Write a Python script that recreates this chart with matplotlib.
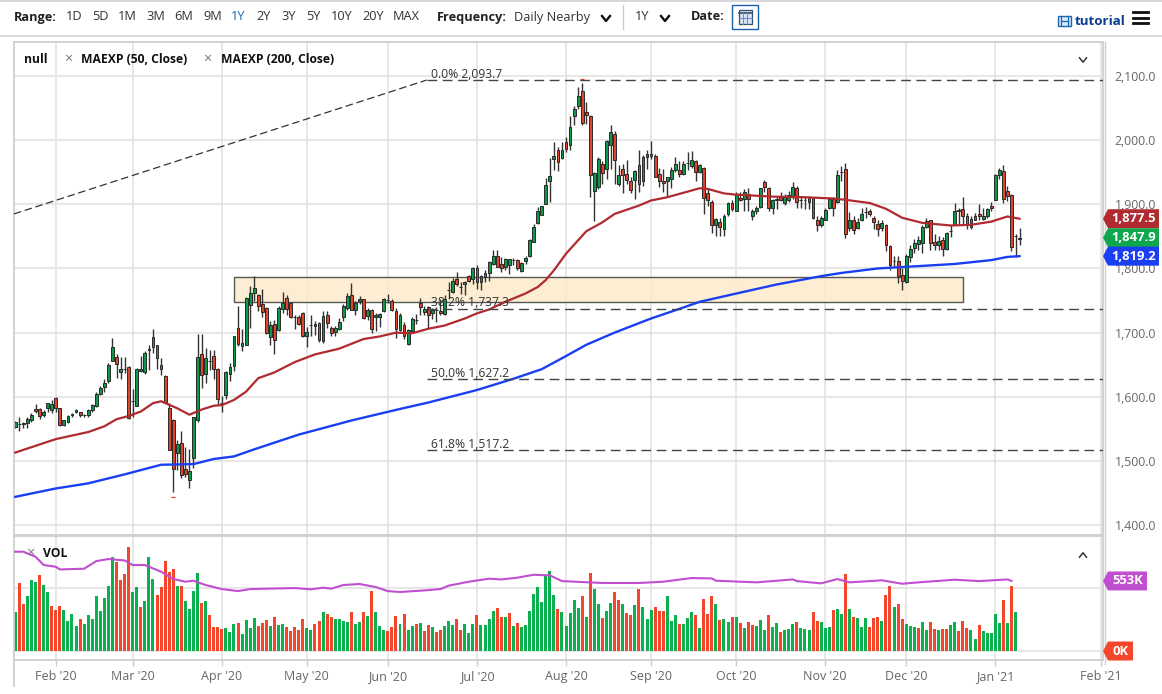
import matplotlib
matplotlib.use("Agg")
import matplotlib.pyplot as plt
from matplotlib.lines import Line2D
from matplotlib.patches import Polygon, Rectangle

W, H = 1162, 694

opens = [
    1553, 1558, 1558, 1559, 1563, 1581, 1581, 1572, 1582, 1579,
    1598, 1582, 1556, 1560, 1572, 1576, 1576, 1571, 1571, 1579,
    1585, 1605, 1615, 1625, 1656, 1662, 1638, 1643, 1646, 1594,
    1586, 1640, 1638, 1673, 1693, 1680, 1649, 1633, 1583, 1564,
    1513, 1528, 1487, 1471, 1505, 1563, 1666, 1635, 1655, 1664,
    1644, 1591, 1603, 1636, 1648, 1707, 1679, 1681, 1743, 1762,
    1759, 1744, 1738, 1693, 1714, 1704, 1737, 1754, 1746, 1724,
    1724, 1730, 1694, 1712, 1711, 1715, 1687, 1728, 1707, 1701,
    1705, 1724, 1739, 1758, 1735, 1750, 1752, 1726, 1735, 1724,
    1725, 1734, 1751, 1750, 1734, 1704, 1712, 1682, 1703, 1719,
    1746, 1732, 1740, 1731, 1736, 1734, 1729, 1767, 1763, 1784,
    1771, 1775, 1788, 1784, 1800, 1779, 1786, 1793, 1807, 1819,
    1807, 1803, 1805, 1813, 1813, 1796, 1812, 1819, 1842, 1871,
    1884, 1900, 1937, 1970, 1985, 1972, 1997, 1993, 2037, 2054,
    2076, 2044, 2038, 1920, 1927, 1963, 1955, 1993, 2010, 1932,
    1955, 1948, 1936, 1938, 1962, 1936, 1973, 1975, 1976, 1948,
    1937, 1937, 1939, 1954, 1954, 1948, 1964, 1960, 1967, 1951,
    1957, 1917, 1904, 1867, 1872, 1862, 1885, 1902, 1890, 1910,
    1909, 1916, 1882, 1889, 1896, 1934, 1926, 1894, 1906, 1912,
    1902, 1907, 1911, 1926, 1906, 1906, 1903, 1910, 1876, 1867,
    1876, 1895, 1908, 1903, 1950, 1955, 1863, 1876, 1863, 1875,
    1888, 1889, 1879, 1870, 1863, 1868, 1835, 1811, 1811, 1790,
    1779, 1818, 1832, 1838, 1839, 1865, 1875, 1842, 1837, 1845,
    1830, 1858, 1868, 1889, 1892, 1882, 1864, 1876, 1885, 1877,
    1881, 1898, 1907, 1945, 1952, 1920, 1915, 1850, 1846,
]
highs = [
    1562, 1568, 1561, 1568, 1575, 1589, 1582, 1579, 1591, 1595,
    1599, 1583, 1564, 1572, 1574, 1581, 1577, 1573, 1581, 1589,
    1608, 1616, 1627, 1653, 1692, 1667, 1662, 1662, 1648, 1612,
    1645, 1663, 1671, 1681, 1705, 1681, 1660, 1634, 1590, 1565,
    1533, 1546, 1522, 1519, 1569, 1698, 1698, 1676, 1673, 1673,
    1645, 1601, 1640, 1653, 1695, 1742, 1705, 1755, 1772, 1789,
    1760, 1768, 1740, 1718, 1719, 1741, 1764, 1759, 1747, 1728,
    1728, 1732, 1709, 1727, 1718, 1716, 1733, 1733, 1710, 1711,
    1723, 1744, 1762, 1777, 1749, 1757, 1753, 1739, 1737, 1731,
    1731, 1754, 1760, 1752, 1739, 1730, 1716, 1706, 1724, 1729,
    1754, 1741, 1742, 1738, 1740, 1753, 1758, 1779, 1785, 1795,
    1779, 1780, 1790, 1802, 1805, 1790, 1797, 1811, 1828, 1828,
    1818, 1816, 1815, 1816, 1815, 1810, 1820, 1846, 1870, 1896,
    1898, 1941, 1972, 1997, 1990, 1997, 2005, 2037, 2054, 2083,
    2089, 2059, 2039, 1950, 1974, 1968, 2000, 2023, 2014, 1961,
    1963, 1969, 1943, 1953, 1985, 1977, 1984, 1999, 1978, 1957,
    1955, 1943, 1958, 1974, 1968, 1968, 1981, 1983, 1969, 1963,
    1958, 1924, 1907, 1879, 1879, 1885, 1903, 1906, 1919, 1919,
    1924, 1926, 1893, 1898, 1926, 1938, 1927, 1908, 1913, 1919,
    1916, 1921, 1934, 1929, 1913, 1913, 1913, 1911, 1882, 1882,
    1894, 1912, 1912, 1953, 1960, 1964, 1888, 1881, 1879, 1895,
    1896, 1893, 1882, 1875, 1876, 1869, 1836, 1820, 1820, 1800,
    1823, 1836, 1846, 1851, 1867, 1879, 1876, 1853, 1851, 1849,
    1857, 1867, 1902, 1895, 1911, 1887, 1882, 1887, 1900, 1895,
    1894, 1903, 1948, 1956, 1962, 1929, 1916, 1854, 1863,
]
lows = [
    1551, 1547, 1551, 1551, 1561, 1574, 1566, 1569, 1577, 1575,
    1577, 1554, 1554, 1559, 1569, 1574, 1568, 1568, 1569, 1577,
    1584, 1603, 1608, 1622, 1655, 1629, 1628, 1637, 1565, 1569,
    1586, 1638, 1636, 1642, 1668, 1643, 1634, 1590, 1517, 1452,
    1486, 1474, 1475, 1458, 1489, 1561, 1614, 1621, 1642, 1627,
    1587, 1577, 1596, 1624, 1640, 1679, 1672, 1680, 1707, 1749,
    1733, 1724, 1698, 1681, 1667, 1702, 1731, 1728, 1723, 1706,
    1712, 1693, 1678, 1694, 1697, 1686, 1684, 1707, 1694, 1694,
    1704, 1718, 1736, 1735, 1727, 1744, 1721, 1720, 1699, 1702,
    1709, 1732, 1746, 1733, 1692, 1702, 1690, 1680, 1700, 1714,
    1727, 1727, 1706, 1721, 1717, 1727, 1728, 1753, 1762, 1772,
    1760, 1758, 1779, 1776, 1768, 1766, 1779, 1781, 1805, 1802,
    1794, 1797, 1791, 1805, 1797, 1794, 1807, 1818, 1841, 1870,
    1883, 1900, 1903, 1954, 1952, 1971, 1981, 1984, 2023, 2049,
    2024, 2025, 1911, 1874, 1924, 1932, 1940, 1955, 1932, 1929,
    1917, 1932, 1917, 1908, 1919, 1929, 1955, 1971, 1942, 1927,
    1919, 1911, 1926, 1950, 1943, 1945, 1953, 1957, 1937, 1949,
    1885, 1898, 1856, 1851, 1851, 1851, 1881, 1890, 1889, 1905,
    1890, 1890, 1876, 1885, 1894, 1919, 1889, 1885, 1893, 1905,
    1899, 1903, 1908, 1895, 1894, 1893, 1893, 1877, 1859, 1864,
    1875, 1893, 1881, 1902, 1937, 1848, 1858, 1854, 1861, 1874,
    1879, 1881, 1862, 1850, 1859, 1827, 1798, 1803, 1777, 1767,
    1777, 1810, 1824, 1828, 1824, 1863, 1828, 1829, 1828, 1820,
    1828, 1849, 1867, 1869, 1868, 1862, 1862, 1875, 1876, 1875,
    1879, 1890, 1906, 1939, 1902, 1905, 1827, 1818, 1836,
]
closes = [
    1560, 1558, 1559, 1566, 1572, 1578, 1570, 1577, 1590, 1588,
    1583, 1556, 1563, 1570, 1573, 1580, 1571, 1571, 1579, 1587,
    1604, 1613, 1622, 1649, 1678, 1651, 1643, 1643, 1567, 1594,
    1644, 1643, 1668, 1675, 1677, 1661, 1643, 1592, 1517, 1487,
    1526, 1478, 1480, 1485, 1568, 1662, 1634, 1660, 1655, 1643,
    1596, 1591, 1638, 1646, 1694, 1682, 1684, 1754, 1762, 1770,
    1741, 1732, 1699, 1712, 1689, 1738, 1746, 1737, 1724, 1724,
    1714, 1695, 1701, 1712, 1713, 1689, 1726, 1715, 1699, 1707,
    1717, 1742, 1757, 1736, 1746, 1752, 1723, 1736, 1706, 1728,
    1729, 1752, 1751, 1735, 1706, 1727, 1695, 1704, 1721, 1719,
    1740, 1737, 1727, 1736, 1736, 1730, 1753, 1767, 1781, 1775,
    1771, 1779, 1781, 1801, 1779, 1789, 1793, 1810, 1820, 1803,
    1801, 1814, 1814, 1813, 1800, 1809, 1817, 1844, 1865, 1889,
    1897, 1930, 1944, 1976, 1966, 1985, 1986, 2020, 2049, 2069,
    2026, 2039, 1946, 1949, 1970, 1949, 1998, 2012, 1969, 1945,
    1946, 1938, 1923, 1952, 1932, 1973, 1978, 1978, 1943, 1937,
    1933, 1942, 1954, 1963, 1948, 1963, 1964, 1969, 1950, 1961,
    1910, 1907, 1868, 1877, 1865, 1881, 1902, 1893, 1916, 1907,
    1919, 1908, 1890, 1894, 1925, 1927, 1894, 1907, 1909, 1906,
    1911, 1915, 1927, 1904, 1906, 1906, 1911, 1878, 1867, 1879,
    1891, 1909, 1895, 1946, 1950, 1854, 1876, 1860, 1872, 1885,
    1888, 1885, 1873, 1861, 1871, 1836, 1805, 1811, 1788, 1780,
    1819, 1830, 1840, 1845, 1865, 1874, 1839, 1836, 1843, 1831,
    1855, 1858, 1889, 1891, 1882, 1868, 1877, 1882, 1881, 1882,
    1892, 1894, 1946, 1954, 1908, 1913, 1834, 1850, 1848,
]
volumes = [
    310, 534, 368, 437, 560, 547, 600, 521, 463, 358,
    326, 358, 321, 237, 295, 200, 250, 213, 284, 250,
    434, 316, 421, 513, 739, 700, 560, 605, 818, 468,
    502, 345, 395, 739, 565, 442, 505, 713, 626, 644,
    515, 513, 395, 329, 473, 618, 379, 392, 284, 189,
    189, 176, 181, 150, 210, 224, 137, 242, 179, 260,
    197, 218, 245, 200, 266, 205, 213, 192, 158, 187,
    168, 252, 181, 166, 210, 234, 308, 289, 266, 252,
    255, 237, 229, 305, 216, 226, 310, 276, 476, 310,
    197, 166, 155, 187, 276, 210, 289, 166, 197, 213,
    218, 158, 205, 189, 150, 163, 197, 239, 203, 255,
    163, 213, 139, 213, 284, 205, 205, 250, 316, 337,
    271, 271, 302, 200, 218, 192, 205, 316, 450, 505,
    384, 600, 631, 442, 329, 305, 200, 302, 400, 342,
    437, 271, 613, 489, 368, 258, 313, 381, 466, 402,
    368, 300, 287, 363, 489, 350, 255, 321, 347, 316,
    316, 434, 237, 284, 216, 210, 258, 310, 284, 184,
    408, 292, 434, 368, 245, 250, 226, 266, 268, 218,
    184, 226, 205, 200, 245, 166, 281, 192, 224, 153,
    168, 171, 213, 229, 179, 174, 163, 305, 237, 229,
    181, 189, 323, 331, 289, 608, 329, 271, 263, 189,
    260, 192, 263, 268, 239, 439, 513, 345, 368, 252,
    213, 197, 189, 181, 226, 163, 229, 176, 166, 174,
    176, 205, 229, 158, 239, 181, 166, 95, 205, 158,
    142, 139, 295, 224, 402, 221, 513, 308,
]
volume_dirs = (
    "grrgggrggr" "rrggggrggg" "gggggrrrrg" "grgggrrrrr" "grggggrgrr"
    "rrgggrgggg" "rrrgrggrrr" "rrggrrgrrg" "gggrggrgrg" "ggrrrgrggr"
    "grrgrrgggr" "rgggrggggr" "rgrgrggggg" "ggggrggggg" "rgrggrggrr"
    "grrgrgggrr" "rgggrgggrg" "rrrgrggrgr" "grrgggrggr" "gggrgggrrg"
    "ggrggrgrgg" "grrrgrrgrr" "gggrggrrgr" "rggrrrggrg" "ggggrgrg"
)

ema50_idx = [0, 10, 18, 22, 25, 28, 31, 34, 36, 40, 43, 46, 49, 51, 54, 57, 60, 64,
             69, 74, 80, 86, 90, 94, 98, 102, 106, 111, 114, 117, 121, 126, 129, 131,
             133, 136, 141, 145, 148, 154, 157, 161, 169, 171, 175, 178, 187, 195, 202,
             205, 211, 215, 219, 224, 231, 236, 241, 245, 248]
ema50 = [1513, 1534, 1545, 1554, 1565, 1570, 1577, 1590, 1593, 1582, 1572, 1580, 1586,
         1587, 1595, 1608, 1629, 1638, 1654, 1666, 1675, 1690, 1694, 1700, 1699, 1706,
         1711, 1722, 1730, 1736, 1748, 1761, 1771, 1782, 1797, 1823, 1858, 1872, 1885,
         1898, 1906, 1911, 1925, 1924, 1917, 1915, 1912, 1911, 1909, 1907, 1902, 1893,
         1879, 1871, 1867, 1868, 1873, 1881, 1877.5]
ema200_idx = [0, 10, 18, 27, 36, 44, 49, 54, 59, 70, 83, 95, 102, 114, 123, 130, 135,
              141, 148, 157, 164, 169, 176, 188, 199, 204, 213, 224, 232, 241, 245, 248]
ema200 = [1444, 1457, 1465, 1479, 1494, 1495, 1503, 1507, 1518, 1541, 1563, 1581, 1591,
          1610.5, 1628, 1643, 1660, 1681, 1700, 1722, 1737, 1748, 1758, 1775, 1788, 1793,
          1800, 1804, 1807, 1813, 1818, 1819.2]
vol_ma_idx = [0, 2, 5, 7, 10, 11, 17, 20, 23, 27, 29, 32, 36, 39, 42, 44, 47, 51, 55, 58,
              69, 73, 76, 78, 81, 85, 89, 92, 95, 100, 105, 107, 112, 113, 117, 120, 124,
              128, 132, 135, 145, 154, 160, 167, 172, 173, 183, 192, 193, 199, 203, 206,
              214, 219, 223, 232, 238, 245, 246]
vol_ma = [784, 784, 744, 679, 665, 644, 650, 710, 726, 715, 679, 679, 626, 568, 547, 555,
          521, 489, 473, 489, 497, 487, 500, 492, 521, 529, 505, 473, 466, 476, 489, 516,
          547, 552, 571, 565, 579, 602, 597, 552, 537, 537, 547, 576, 573, 555, 542, 565,
          552, 534, 568, 542, 558, 531, 542, 563, 552, 565, 553]

fib_levels = [2093.7, 1737.3, 1627.2, 1517.2]
fib_labels = ["0.0% 2,093.7", "38.2% 1,737.3", "50.0% 1,627.2", "61.8% 1,517.2"]
fib_start = 101.6
trend_idx = [-0.32, 101.6]
trend_price = [1885, 2093.7]
zone_idx = [54, 234]
zone_price = [1748, 1787]

month_idx = [10, 29, 51, 72, 92, 114, 136, 157, 178, 200, 220, 242, 268]
month_labels = ["Feb '20", "Mar '20", "Apr '20", "May '20", "Jun '20", "Jul '20", "Aug '20",
                "Sep '20", "Oct '20", "Nov '20", "Dec '20", "Jan '21", "Feb '21"]
price_ticks = [1400, 1500, 1600, 1700, 1800, 1900, 2000, 2100]
price_labels = ["1,400.0", "1,500.0", "1,600.0", "1,700.0", "1,800.0", "1,900.0",
                "2,000.0", "2,100.0"]
range_labels = ["1D", "5D", "1M", "3M", "6M", "9M", "1Y", "2Y", "3Y", "5Y", "10Y", "20Y", "MAX"]
range_x = [66, 92, 118, 146, 174, 203, 231, 256, 281, 306, 331, 362, 393]

UP_BODY = "#0c9a48"
DOWN_BODY = "#e0452a"
VOL_UP = "#0bb14f"
VOL_DOWN = "#f4462a"
GRID = "#e3e3e3"
BORDER = "#cfcfcf"
TICK_TEXT = "#666666"
RED_LINE = "#b02a30"
BLUE_LINE = "#1a3ff2"
PURPLE = "#c04fd0"
BADGE_GREEN = "#0fa64d"


def px_rect(left, top, right, bottom):
    return [left / W, 1 - bottom / H, (right - left) / W, (bottom - top) / H]


def put_text(fig, x, y, s, **kwargs):
    kwargs.setdefault("va", "center")
    kwargs.setdefault("color", "#222222")
    kwargs.setdefault("fontsize", 9.2)
    fig.text(x / W, 1 - y / H, s, **kwargs)


def put_line(fig, xs, ys, color="#222222", lw=1.0, **kwargs):
    fig.add_artist(Line2D([x / W for x in xs], [1 - y / H for y in ys],
                          color=color, lw=lw, transform=fig.transFigure, **kwargs))


def put_rect(fig, x, y, w, h, **kwargs):
    fig.add_artist(Rectangle((x / W, 1 - (y + h) / H), w / W, h / H,
                             transform=fig.transFigure, **kwargs))


def chevron(fig, x, y, up=False, color="#333333", lw=1.1, size=3.5):
    d = -size / 1.6 if up else size / 1.6
    put_line(fig, [x - size, x, x + size], [y - d, y + d, y - d], color=color, lw=lw)


def badge(fig, y, right, color, text):
    # small flag on the right of the axis, with its point against the plot
    points = [(1103, y), (1108, y - 9.5), (right, y - 9.5), (right, y + 9.5), (1108, y + 9.5)]
    fig.add_artist(Polygon([(px / W, 1 - py / H) for px, py in points], closed=True,
                           facecolor=color, edgecolor="none",
                           transform=fig.transFigure, zorder=6))
    put_text(fig, (1109 + right) / 2, y, text, color="white", fontweight="bold",
             ha="center", fontsize=9.4, zorder=7)


def style_axes(ax):
    ax.set_facecolor("white")
    ax.grid(True, color=GRID, lw=1.2, zorder=0)
    ax.set_axisbelow(True)
    for spine in ax.spines.values():
        spine.set_color(BORDER)
        spine.set_linewidth(1.3)


def draw_price(ax):
    ax.set_xlim(-0.32, 268.6)
    ax.set_ylim(1384.5, 2153)
    ax.set_xticks(month_idx)
    ax.set_xticklabels([])
    ax.set_yticks(price_ticks)
    ax.set_yticklabels(price_labels)
    ax.yaxis.tick_right()
    ax.tick_params(axis="x", length=0)
    ax.tick_params(axis="y", length=0, pad=8.5, labelsize=8.8, labelcolor=TICK_TEXT)
    style_axes(ax)

    ax.add_patch(Rectangle((zone_idx[0], zone_price[0]), zone_idx[1] - zone_idx[0],
                           zone_price[1] - zone_price[0], facecolor="#fdeccd", alpha=0.9,
                           edgecolor="#444444", lw=1.0, zorder=1))

    xs = range(len(closes))
    colors = [UP_BODY if c >= o else DOWN_BODY for o, c in zip(opens, closes)]
    ax.vlines(xs, lows, highs, color="#333333", lw=1.0, zorder=2)
    ax.bar(xs, [c - o for o, c in zip(opens, closes)], bottom=opens, width=0.7,
           color=colors, edgecolor="#2a2a2a", lw=0.7, zorder=2.5)

    ax.plot(ema50_idx, ema50, color=RED_LINE, lw=1.6, zorder=3)
    ax.plot(ema200_idx, ema200, color=BLUE_LINE, lw=1.7, zorder=3)

    # tiny red ticks just beyond the extreme candles
    ax.plot([39, 140], [1444, 2096], ls="none", marker="_", ms=2.5, mew=0.9,
            color="#f04030", zorder=3)

    ax.plot(trend_idx, trend_price, color="#333333", lw=0.9, ls=(0, (6, 3)), zorder=3)
    for level, label in zip(fib_levels, fib_labels):
        ax.plot([fib_start, 268.6], [level, level], color="#444444", lw=1.0,
                ls=(0, (7, 4)), zorder=3)
        ax.text(fib_start + 1, level - 1, label, color="#333333", fontsize=8.7,
                va="bottom", ha="left", zorder=4)


def draw_volume(ax):
    ax.set_xlim(-0.32, 268.6)
    ax.set_ylim(-71, 908)
    ax.set_xticks(month_idx)
    ax.set_xticklabels(month_labels)
    ax.set_yticks([0, 500])
    ax.set_yticklabels([])
    ax.tick_params(axis="y", length=0)
    ax.tick_params(axis="x", length=4, width=1, color=BORDER, pad=3.5, labelsize=9,
                   labelcolor=TICK_TEXT)
    style_axes(ax)

    colors = [VOL_UP if d == "g" else VOL_DOWN for d in volume_dirs]
    ax.bar(range(len(volumes)), volumes, width=0.74, color=colors, zorder=2)
    ax.plot(vol_ma_idx, vol_ma, color=PURPLE, lw=1.5, zorder=3)


def draw_toolbar(fig):
    put_line(fig, [0, W], [1, 1], color="#d0d0d0", lw=1.2)
    put_line(fig, [0, W], [36, 36], color="#d0d0d0", lw=1.2)
    put_text(fig, 14, 17, "Range:", fontweight="bold")
    for x, label in zip(range_x, range_labels):
        put_text(fig, x, 17, label, color="#1668b8" if label == "1Y" else "#333333")
    put_text(fig, 437, 17, "Frequency:", fontweight="bold")
    put_text(fig, 514, 17, "Daily Nearby", color="#333333")
    chevron(fig, 606, 18.5, color="#111111", lw=1.7, size=4)
    put_line(fig, [623, 623], [5, 29], color="#cccccc", lw=1)
    put_text(fig, 635, 17, "1Y", color="#333333")
    chevron(fig, 665, 18.5, color="#111111", lw=1.7, size=4)
    put_text(fig, 691, 17, "Date:", fontweight="bold")

    # calendar button
    put_rect(fig, 732, 5.5, 26, 23, facecolor="white", edgecolor="#1b5fa8", lw=1)
    put_rect(fig, 738.5, 10, 13, 13.5, facecolor="#d5e3f3", edgecolor="#35506f", lw=0.9)
    put_line(fig, [738.5, 751.5], [13, 13], color="#35506f", lw=1.2)
    put_line(fig, [743, 743], [13, 23.5], color="#7a86c8", lw=0.7)
    put_line(fig, [747, 747], [13, 23.5], color="#7a86c8", lw=0.7)
    put_line(fig, [738.5, 751.5], [18, 18], color="#7a86c8", lw=0.7)

    # tutorial link
    put_rect(fig, 1058, 16, 13, 10, facecolor="#dbe8f5", edgecolor="#1b66b5", lw=1)
    put_line(fig, [1061, 1061], [16, 26], color="#1b66b5", lw=0.9)
    put_line(fig, [1068, 1068], [16, 26], color="#1b66b5", lw=0.9)
    put_line(fig, [1061, 1068], [21, 21], color="#1b66b5", lw=0.9)
    put_text(fig, 1075, 21.5, "tutorial", color="#0b3d91", fontweight="bold", fontsize=9.6)
    for y in [12, 17.5, 23]:
        put_line(fig, [1133, 1148], [y, y], color="#111111", lw=2)


def main():
    plt.rcParams["font.family"] = ["Open Sans", "DejaVu Sans"]
    fig = plt.figure(figsize=(W / 100, H / 100), dpi=100, facecolor="white")

    price_ax = fig.add_axes(px_rect(14, 42, 1103, 535))
    volume_ax = fig.add_axes(px_rect(14, 536, 1103, 660))
    draw_price(price_ax)
    draw_volume(volume_ax)
    draw_toolbar(fig)

    put_line(fig, [14, 14], [660, 686], color=BORDER, lw=1.3)
    put_line(fig, [1105, 1105], [42, 664], color=BORDER, lw=1.0)

    # legends
    put_text(fig, 24, 59.5, "null", fontweight="bold", fontsize=8.7, color="#111111")
    put_text(fig, 68, 59.5, "×", color="#777777", ha="center", fontsize=10.5)
    put_text(fig, 81, 59.5, "MAEXP (50, Close)", fontweight="bold", fontsize=8.7, color="#111111")
    put_text(fig, 207, 59.5, "×", color="#777777", ha="center", fontsize=10.5)
    put_text(fig, 221, 59.5, "MAEXP (200, Close)", fontweight="bold", fontsize=8.7, color="#111111")
    chevron(fig, 1083, 60)
    put_text(fig, 30, 553, "×", color="#777777", ha="center", fontsize=10.5)
    put_text(fig, 43, 553.5, "VOL", fontweight="bold", fontsize=8.7, color="#111111")
    chevron(fig, 1083, 555, up=True)

    # value flags follow the axes scales
    to_px = lambda ax, value: H - ax.transData.transform((0, value))[1]
    badge(fig, to_px(price_ax, ema50[-1]), 1159, RED_LINE, f"{ema50[-1]:,.1f}")
    badge(fig, to_px(price_ax, closes[-1] - 0.1), 1159, BADGE_GREEN, "1,847.9")
    badge(fig, to_px(price_ax, ema200[-1]), 1159, BLUE_LINE, f"{ema200[-1]:,.1f}")
    badge(fig, to_px(volume_ax, vol_ma[-1]), 1147, PURPLE, f"{vol_ma[-1]}K")
    badge(fig, to_px(volume_ax, 0), 1133, VOL_DOWN, "0K")

    fig.savefig("out.png", dpi=100)


if __name__ == "__main__":
    main()
